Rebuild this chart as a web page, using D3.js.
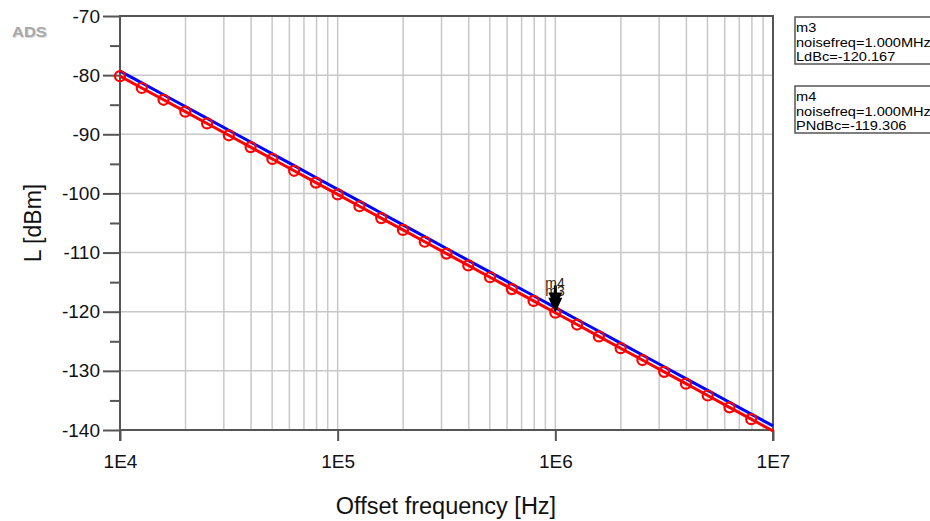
<!DOCTYPE html>
<html>
<head>
<meta charset="utf-8">
<script src="https://cdn.jsdelivr.net/npm/d3@7"></script>
<style>
  body { margin: 0; background: #fff; }
  svg { display: block; font-family: "Liberation Sans", Arial, sans-serif; }
</style>
</head>
<body>
<svg id="chart" width="930" height="521"></svg>
<script>
// offset frequency points (Hz), 10 per decade
const noiseFreq = [
  1e4, 1.259e4, 1.585e4, 1.995e4, 2.512e4, 3.162e4, 3.981e4, 5.012e4, 6.31e4, 7.943e4,
  1e5, 1.259e5, 1.585e5, 1.995e5, 2.512e5, 3.162e5, 3.981e5, 5.012e5, 6.31e5, 7.943e5,
  1e6, 1.259e6, 1.585e6, 1.995e6, 2.512e6, 3.162e6, 3.981e6, 5.012e6, 6.31e6, 7.943e6,
  1e7
];
// L(f) in dBc (red, with circles)
const ldbc = [
  -80.17, -82.17, -84.17, -86.17, -88.17, -90.17, -92.17, -94.17, -96.17, -98.17,
  -100.17, -102.17, -104.17, -106.17, -108.17, -110.17, -112.17, -114.17, -116.17, -118.17,
  -120.17, -122.17, -124.17, -126.17, -128.17, -130.17, -132.17, -134.17, -136.17, -138.17,
  -140.17
];
// PN in dBc (blue)
const pndbc = [
  -79.31, -81.31, -83.31, -85.31, -87.31, -89.31, -91.31, -93.31, -95.31, -97.31,
  -99.31, -101.31, -103.31, -105.31, -107.31, -109.31, -111.31, -113.31, -115.31, -117.31,
  -119.31, -121.31, -123.31, -125.31, -127.31, -129.31, -131.31, -133.31, -135.31, -137.31,
  -139.31
];
const xTicks = [1e4, 1e5, 1e6, 1e7];
const xTickLabels = ["1E4", "1E5", "1E6", "1E7"];
const xGrid = [2e4, 3e4, 4e4, 5e4, 6e4, 7e4, 8e4, 9e4, 1e5,
  2e5, 3e5, 4e5, 5e5, 6e5, 7e5, 8e5, 9e5, 1e6,
  2e6, 3e6, 4e6, 5e6, 6e6, 7e6, 8e6, 9e6];
const yTicks = [-140, -130, -120, -110, -100, -90, -80, -70];
const yMinorTicks = [-135, -125, -115, -105, -95, -85, -75];
const markers = [
  { name: "m3", freq: 1e6, label: "LdBc", value: -120.167, dy: 3 },
  { name: "m4", freq: 1e6, label: "PNdBc", value: -119.306, dy: 0 }
];

const svg = d3.select("#chart");
const plot = { left: 120, right: 773, top: 16, bottom: 430 };

const x = d3.scaleLog().domain([1e4, 1e7]).range([plot.left, plot.right]);
const y = d3.scaleLinear().domain([-140, -70]).range([plot.bottom, plot.top]);

const frame = "#555";
const grid = "#c8c8c8";

// grid
svg.append("g")
  .selectAll("line")
  .data(xGrid)
  .join("line")
  .attr("x1", (d) => x(d)).attr("x2", (d) => x(d))
  .attr("y1", plot.top).attr("y2", plot.bottom)
  .attr("stroke", grid).attr("stroke-width", 1.5);
svg.append("g")
  .selectAll("line")
  .data(yTicks.slice(1, -1))
  .join("line")
  .attr("x1", plot.left).attr("x2", plot.right)
  .attr("y1", (d) => y(d)).attr("y2", (d) => y(d))
  .attr("stroke", grid).attr("stroke-width", 1.5);

// axes
const yAxis = svg.append("g").attr("transform", `translate(${plot.left},0)`)
  .call(d3.axisLeft(y).tickValues(yTicks).tickSize(17).tickPadding(3).tickFormat((d) => String(d)));
const yMinor = svg.append("g").attr("transform", `translate(${plot.left},0)`)
  .call(d3.axisLeft(y).tickValues(yMinorTicks).tickSize(10).tickFormat(""));
const xAxis = svg.append("g").attr("transform", `translate(0,${plot.bottom})`)
  .call(d3.axisBottom(x).tickValues(xTicks).tickSize(11).tickPadding(14)
    .tickFormat((d, i) => xTickLabels[i]));

[yAxis, yMinor, xAxis].forEach((g) => {
  g.select(".domain").remove();
  g.selectAll(".tick line").attr("stroke", frame).attr("stroke-width", 2);
  g.selectAll("text").attr("fill", "#111").attr("font-size", 19)
    .attr("font-family", "Liberation Sans, Arial, sans-serif");
});

// frame
svg.append("path")
  .attr("d", `M${plot.left},${plot.bottom + 11}V${plot.top}H${plot.right}V${plot.bottom + 11}M${plot.left},${plot.bottom}H${plot.right}`)
  .attr("fill", "none").attr("stroke", frame).attr("stroke-width", 2);

// traces
const points = noiseFreq.map((f, i) => ({ f, l: ldbc[i], pn: pndbc[i] }));
svg.append("path")
  .datum(points)
  .attr("fill", "none").attr("stroke", "#0000ff").attr("stroke-width", 3)
  .attr("d", d3.line().x((d) => x(d.f)).y((d) => y(d.pn)));
svg.append("path")
  .datum(points)
  .attr("fill", "none").attr("stroke", "#ff0000").attr("stroke-width", 3)
  .attr("d", d3.line().x((d) => x(d.f)).y((d) => y(d.l)));
svg.append("g")
  .selectAll("circle")
  .data(points.filter((d) => d.f < 1e7))
  .join("circle")
  .attr("cx", (d) => x(d.f)).attr("cy", (d) => y(d.l))
  .attr("r", 5)
  .attr("fill", "none").attr("stroke", "#ff0000").attr("stroke-width", 2.2);

// markers
markers.forEach((m) => {
  const mx = x(m.freq), my = y(m.value);
  svg.append("path")
    .attr("d", `M${mx - 1.5},${my - 22}h3v7h5.5l-7,15l-7,-15h5.5z`)
    .attr("fill", "#000");
  svg.append("text")
    .attr("x", mx - 10).attr("y", my - 20 + m.dy)
    .attr("font-size", 14).attr("fill", "#2a2410")
    .text(m.name);
});

// marker readouts
markers.forEach((m, i) => {
  const by = 17 + i * 69;
  svg.append("rect")
    .attr("x", 795).attr("y", by).attr("width", 160).attr("height", 47)
    .attr("fill", "#fff").attr("stroke", frame).attr("stroke-width", 1.5);
  const lines = [m.name, `noisefreq=${(m.freq / 1e6).toFixed(3)}MHz`, `${m.label}=${m.value.toFixed(3)}`];
  svg.append("g")
    .selectAll("text")
    .data(lines)
    .join("text")
    .attr("transform", (d, j) => `translate(796,${by + 15 + j * 14.5}) scale(1.08,1)`)
    .attr("font-size", 13.5).attr("fill", "#000")
    .text((d) => d);
});

// axis titles
svg.append("text")
  .attr("transform", `translate(41,223) rotate(-90)`)
  .attr("text-anchor", "middle").attr("font-size", 23).attr("fill", "#111")
  .text("L [dBm]");
svg.append("text")
  .attr("x", 446).attr("y", 514)
  .attr("text-anchor", "middle").attr("font-size", 23.5).attr("fill", "#111")
  .text("Offset frequency [Hz]");

// ADS logo
svg.append("text")
  .attr("transform", "translate(13,38) scale(1.1,1)")
  .attr("font-size", 15).attr("font-weight", "bold").attr("fill", "#dcdcdc")
  .text("ADS");
svg.append("text")
  .attr("transform", "translate(12,37) scale(1.1,1)")
  .attr("font-size", 15).attr("font-weight", "bold").attr("fill", "#a8a8a8")
  .text("ADS");
</script>
</body>
</html>
